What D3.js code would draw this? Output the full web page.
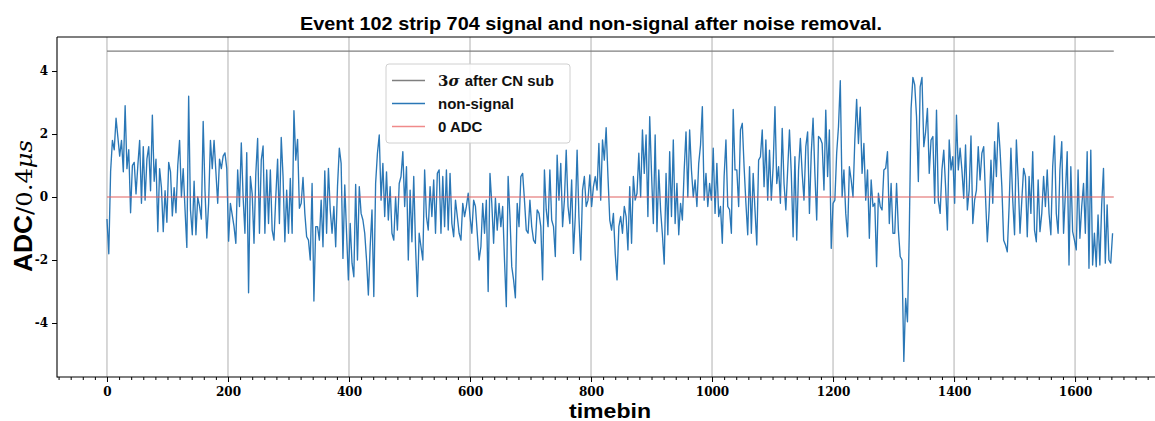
<!DOCTYPE html>
<html><head><meta charset="utf-8">
<script src="https://cdn.jsdelivr.net/npm/d3@7"></script>
<style>body{margin:0;background:#fff;overflow:hidden}</style>
</head><body><svg id="c" width="1155" height="421"></svg>
<script>
const titleText = "Event 102 strip 704 signal and non-signal after noise removal.";
const xLabel = "timebin";
const xTicks = [0, 200, 400, 600, 800, 1000, 1200, 1400, 1600];
const yTicks = [-4, -2, 0, 2, 4];
const legendLabels = ["after CN sub", "non-signal", "0 ADC"];
const timebinStep = 3;          // one value every 3 timebins
const threeSigma = 4.63;        // 3σ after CN sub
const zeroLevel = 0;
const lastTimebin = 1664;

// ADC values (t = 0 .. 1662, step 3)
const adcSeg1 = [-0.7,-1.8,0.8,1.8,1.5,2.5,1.9,1.3,1.8,0.8,
 2.9,0.9,1.5,-0.5,1.0,1.1,0.1,1.0,1.8,-0.2,
 1.6,-0.1,1.2,1.6,0.2,2.6,0.5,1.2,-1.1,0.9,
 0.3,-1.1,0.2,-0.8,1.1,0.8,-0.6,0.3,-0.5,1.0,
 1.8,0.0,0.9,-0.4,-1.6,3.2,-0.4,-1.2,0.5,-1.2,
 0.0,-0.3,-0.7,2.4,0.2,-1.3,-0.2,1.8,0.9,1.8,
 0.8,-0.2,1.2,0.9,1.3,1.4,0.9,-1.4];
const adcSeg2 = [-0.2,-0.57,-0.94,-1.47,0.86,-0.3,1.72,0.0,-1.15,1.41,
 -3.04,0.65,0.1,-1.47,0.75,1.86,-1.15,1.17,1.62,-1.15,
 0.86,-0.84,0.86,-1.05,-1.37,0.0,1.2,-0.84,1.89,0.65,
 -1.42,0.22,-1.15,0.59,-1.15,2.74,1.17,1.83,-0.36,-0.2,
 0.62,-0.52,-1.26,-1.37,-2.0,0.43,-3.3,-0.94,-0.94,-1.37,
 -0.1,-1.58,0.83,-1.15,0.91,-0.41,-1.15,-0.3,-1.58,0.33,
 1.55,1.07,-1.95,0.38,-1.15,-2.63,-0.84,-2.1,-2.53];
const adcSeg3 = [0.4,-2.0,0.33,-0.52,-0.73,-1.15,-2.0,-3.11,-1.58,-0.41,
 -3.16,0.43,1.39,1.97,-0.1,1.07,-0.62,0.8,-0.73,0.33,
 -1.15,-1.37,0.0,-1.05,0.43,0.65,1.44,-0.3,0.96,-2.0,
 0.22,-1.42,0.65,-1.58,-3.16,-1.15,-1.58,-2.0,0.86,-0.62,
 -1.05,0.33,-0.62,0.54,-1.15,0.75,0.86,-1.15,0.65,-0.94,
 0.86,-1.05,0.75,-0.84,-1.26,-0.1,-0.62,-1.15,-1.37,-0.2,
 -0.62,-0.3,0.12,-0.62,-1.15,-0.1,-0.3,-1.15,-2.0];
const adcSeg4 = [-1.58,-0.2,-1.15,-0.1,-3.0,0.75,-0.2,-1.47,-0.04,-1.05,
 -0.2,-0.94,-0.3,-2.0,-3.48,0.65,-0.62,-2.21,-2.63,-3.2,
 -0.2,-0.94,0.65,0.75,-0.1,-1.05,-1.15,-0.1,-0.94,-1.37,
 -1.47,-0.41,-0.52,-0.94,-2.63,0.86,-0.41,-0.94,0.86,-0.73,
 -0.94,-1.89,1.33,-0.1,1.07,-0.94,-0.1,1.49,-0.3,-0.84,
 0.54,-1.79,-0.62,1.49,-0.62,-2.0,0.22,0.65,-0.3,-0.1,
 0.7,-0.3,0.33,0.65,0.22,1.7,-0.1,1.81,1.17];
const adcSeg5 = [2.2,0.65,-0.73,-1.05,-0.52,-1.79,-2.63,-0.94,-0.62,-1.15,
 -0.3,-0.62,-1.68,0.33,-1.47,0.65,-0.1,0.12,1.39,0.0,
 2.13,0.75,1.97,-0.62,2.55,0.75,-0.84,1.97,-1.1,0.86,
 -0.41,-1.2,-2.13,0.75,-1.2,1.44,-0.62,1.81,-0.84,0.43,
 -1.2,-0.2,-0.73,0.86,2.07,0.0,2.13,0.86,0.0,0.54,
 -0.3,1.07,1.65,2.87,-0.1,0.75,-0.3,0.43,-0.1,1.55,
 -0.52,1.07,-0.62,-0.3,-1.47,0.65,1.81,-0.3];
const adcSeg6 = [-0.4,-1.15,2.78,0.86,0.86,-0.3,2.13,2.34,0.96,-0.2,
 -1.2,0.96,-1.15,0.75,-0.41,-1.52,1.17,1.28,2.13,0.33,
 1.81,-0.1,1.49,-0.1,0.96,2.87,0.43,0.96,-0.2,2.18,
 0.43,-0.41,0.86,2.13,0.75,-1.26,1.28,-1.37,0.86,1.86,
 0.75,-0.1,1.6,2.07,-0.52,1.39,2.5,0.75,-0.73,1.92,
 1.86,1.7,0.22,2.76,0.65,2.13,-1.63,-0.2,-0.1,1.39,
 2.23,3.69,0.0,0.86,-0.52,-1.26,0.96,0.54,0.0,1.8];
const adcSeg7 = [3.1,1.7,2.85,0.75,1.7,-0.1,0.86,-1.31,0.54,-0.3,
 -0.2,-2.21,0.12,-0.3,-0.41,0.86,0.91,1.44,-0.84,0.43,
 -1.15,-1.15,0.43,-1.05,-1.89,-2.0,-5.22,-3.22,-3.96,-1.15,
 2.81,3.8,3.56,2.55,0.49,3.5,3.8,1.6,2.07,2.81,
 0.75,1.81,1.92,-0.2,2.76,-0.1,-0.52,0.86,1.49,0.33,
 -1.05,1.81,0.86,1.28,-0.2,2.6,0.86,1.55,0.86,-0.04,
 1.65,-0.41,0.22,1.94,-0.84,-0.1,0.22,1.6];
const adcSeg8 = [0.54,1.39,1.6,0.0,-1.42,-0.41,1.17,-0.2,1.76,0.65,
 2.36,1.49,0.33,-1.37,-1.52,-1.74,-0.3,1.55,-0.1,-1.2,
 1.81,0.54,-1.15,-0.1,0.91,0.65,-1.26,0.65,-0.52,1.44,
 -1.05,-1.42,0.54,-1.1,-0.52,0.65,-0.3,0.86,-0.52,-1.2,
 0.96,1.94,-0.52,-1.15,0.86,1.76,-1.15,0.12,1.44,-2.16,
 0.96,-1.1,-1.37,-1.68,0.86,-1.31,-0.3,0.43,-1.15,1.44,
 -2.26,1.49,-2.16,-1.15,-2.21,-0.57,-2.16,-0.25,0.91,-2.1,
 -0.25,-2.0,-2.1,-1.15];

const adc = [].concat(adcSeg1, adcSeg2, adcSeg3, adcSeg4, adcSeg5, adcSeg6, adcSeg7, adcSeg8);
const series = adc.map((v, i) => ({t: i * timebinStep, v}));

const svg = d3.select("#c");
const x = d3.scaleLinear().domain([-82.6, 1747]).range([57, 1164]);
const y = d3.scaleLinear().domain([-5.714, 5.08]).range([377, 37]);

const serif = "'DejaVu Serif', serif";
const sans = "'Liberation Sans', Arial, sans-serif";

// vertical grid
svg.append("g").selectAll("line").data(xTicks).join("line")
  .attr("x1", d => x(d)).attr("x2", d => x(d))
  .attr("y1", y.range()[1]).attr("y2", y.range()[0])
  .attr("stroke", "#b0b0b0").attr("stroke-width", 1);

// 3 sigma line
svg.append("line")
  .attr("x1", x(0)).attr("x2", x(lastTimebin))
  .attr("y1", y(threeSigma)).attr("y2", y(threeSigma))
  .attr("stroke", "#7f7f7f").attr("stroke-width", 1.2);

// data
const line = d3.line().x(d => x(d.t)).y(d => y(d.v));
svg.append("path").datum(series)
  .attr("d", line).attr("fill", "none")
  .attr("stroke", "#2a77b6").attr("stroke-width", 1.35)
  .attr("stroke-linejoin", "round");

// zero line
svg.append("line")
  .attr("x1", x(0)).attr("x2", x(lastTimebin))
  .attr("y1", y(zeroLevel)).attr("y2", y(zeroLevel))
  .attr("stroke", "#e06060").attr("stroke-width", 1.1);

// axes
const xMinor = d3.range(-80, 1760, 20).filter(d => d % 200 !== 0);
const gxm = svg.append("g").attr("transform", `translate(0,${y.range()[0]})`)
  .call(d3.axisBottom(x).tickValues(xMinor).tickSize(3).tickFormat(""));
const gx = svg.append("g").attr("transform", `translate(0,${y.range()[0]})`)
  .call(d3.axisBottom(x).tickValues(xTicks).tickSize(5).tickPadding(5).tickFormat(d3.format("d")));
const gy = svg.append("g").attr("transform", `translate(${x.range()[0]},0)`)
  .call(d3.axisLeft(y).tickValues(yTicks).tickSize(5).tickPadding(4)
    .tickFormat(d => d < 0 ? "-" + Math.abs(d) : String(d)));
[gxm, gx, gy].forEach(g => {
  g.select(".domain").remove();
  g.selectAll(".tick line").attr("stroke", "#000").attr("stroke-width", 1);
  g.selectAll("text").attr("fill", "#000").style("font-family", serif)
    .style("font-size", "12px").style("font-weight", "bold");
});

// spines
svg.append("line").attr("x1", 57).attr("x2", 57).attr("y1", 37).attr("y2", 377.5)
  .attr("stroke", "#000").attr("stroke-width", 1.1);
svg.append("line").attr("x1", 57).attr("x2", 1155).attr("y1", 377).attr("y2", 377)
  .attr("stroke", "#000").attr("stroke-width", 1.1);
svg.append("line").attr("x1", 57).attr("x2", 1155).attr("y1", 37).attr("y2", 37)
  .attr("stroke", "#000").attr("stroke-width", 1.1);

// title
svg.append("text").attr("x", 591).attr("y", 30).attr("text-anchor", "middle")
  .attr("textLength", 582).attr("lengthAdjust", "spacingAndGlyphs")
  .style("font-family", sans).style("font-size", "18px").style("font-weight", "bold")
  .text(titleText);

// x label
svg.append("text").attr("x", 610).attr("y", 418).attr("text-anchor", "middle")
  .attr("textLength", 82).attr("lengthAdjust", "spacingAndGlyphs")
  .style("font-family", sans).style("font-size", "20px").style("font-weight", "bold")
  .text(xLabel);

// y label
const yl = svg.append("text").attr("transform", "translate(32,206) rotate(-90)")
  .attr("text-anchor", "middle").attr("textLength", 132).attr("lengthAdjust", "spacingAndGlyphs");
yl.append("tspan").style("font-family", sans).style("font-size", "25px").style("font-weight", "bold").text("ADC");
yl.append("tspan").style("font-family", serif).style("font-size", "23px").text("/0.4");
yl.append("tspan").style("font-family", serif).style("font-size", "23px").style("font-style", "italic").text("μs");

// legend
const lg = svg.append("g");
lg.append("rect").attr("x", 386).attr("y", 64).attr("width", 184).attr("height", 79)
  .attr("rx", 3).attr("fill", "#fff").attr("fill-opacity", 0.9)
  .attr("stroke", "#d0d0d0").attr("stroke-width", 1);
const legendColors = ["#7f7f7f", "#2a77b6", "#f08a8a"];
const legendY = [80.5, 103.5, 126.5];
legendLabels.forEach((lab, i) => {
  lg.append("line").attr("x1", 392).attr("x2", 425).attr("y1", legendY[i]).attr("y2", legendY[i])
    .attr("stroke", legendColors[i]).attr("stroke-width", 1.3);
  const t = lg.append("text").attr("x", 438).attr("y", legendY[i] + 5.5)
    .style("font-family", sans).style("font-size", "15px").style("font-weight", "bold").attr("fill", "#111");
  if (i === 0) {
    t.append("tspan").style("font-family", serif).style("font-weight", "bold").text("3");
    t.append("tspan").style("font-family", serif).style("font-style", "italic").style("font-weight", "bold").text("σ ");
    t.append("tspan").text(lab);
  } else {
    t.text(lab);
  }
});
</script>
</body></html>
